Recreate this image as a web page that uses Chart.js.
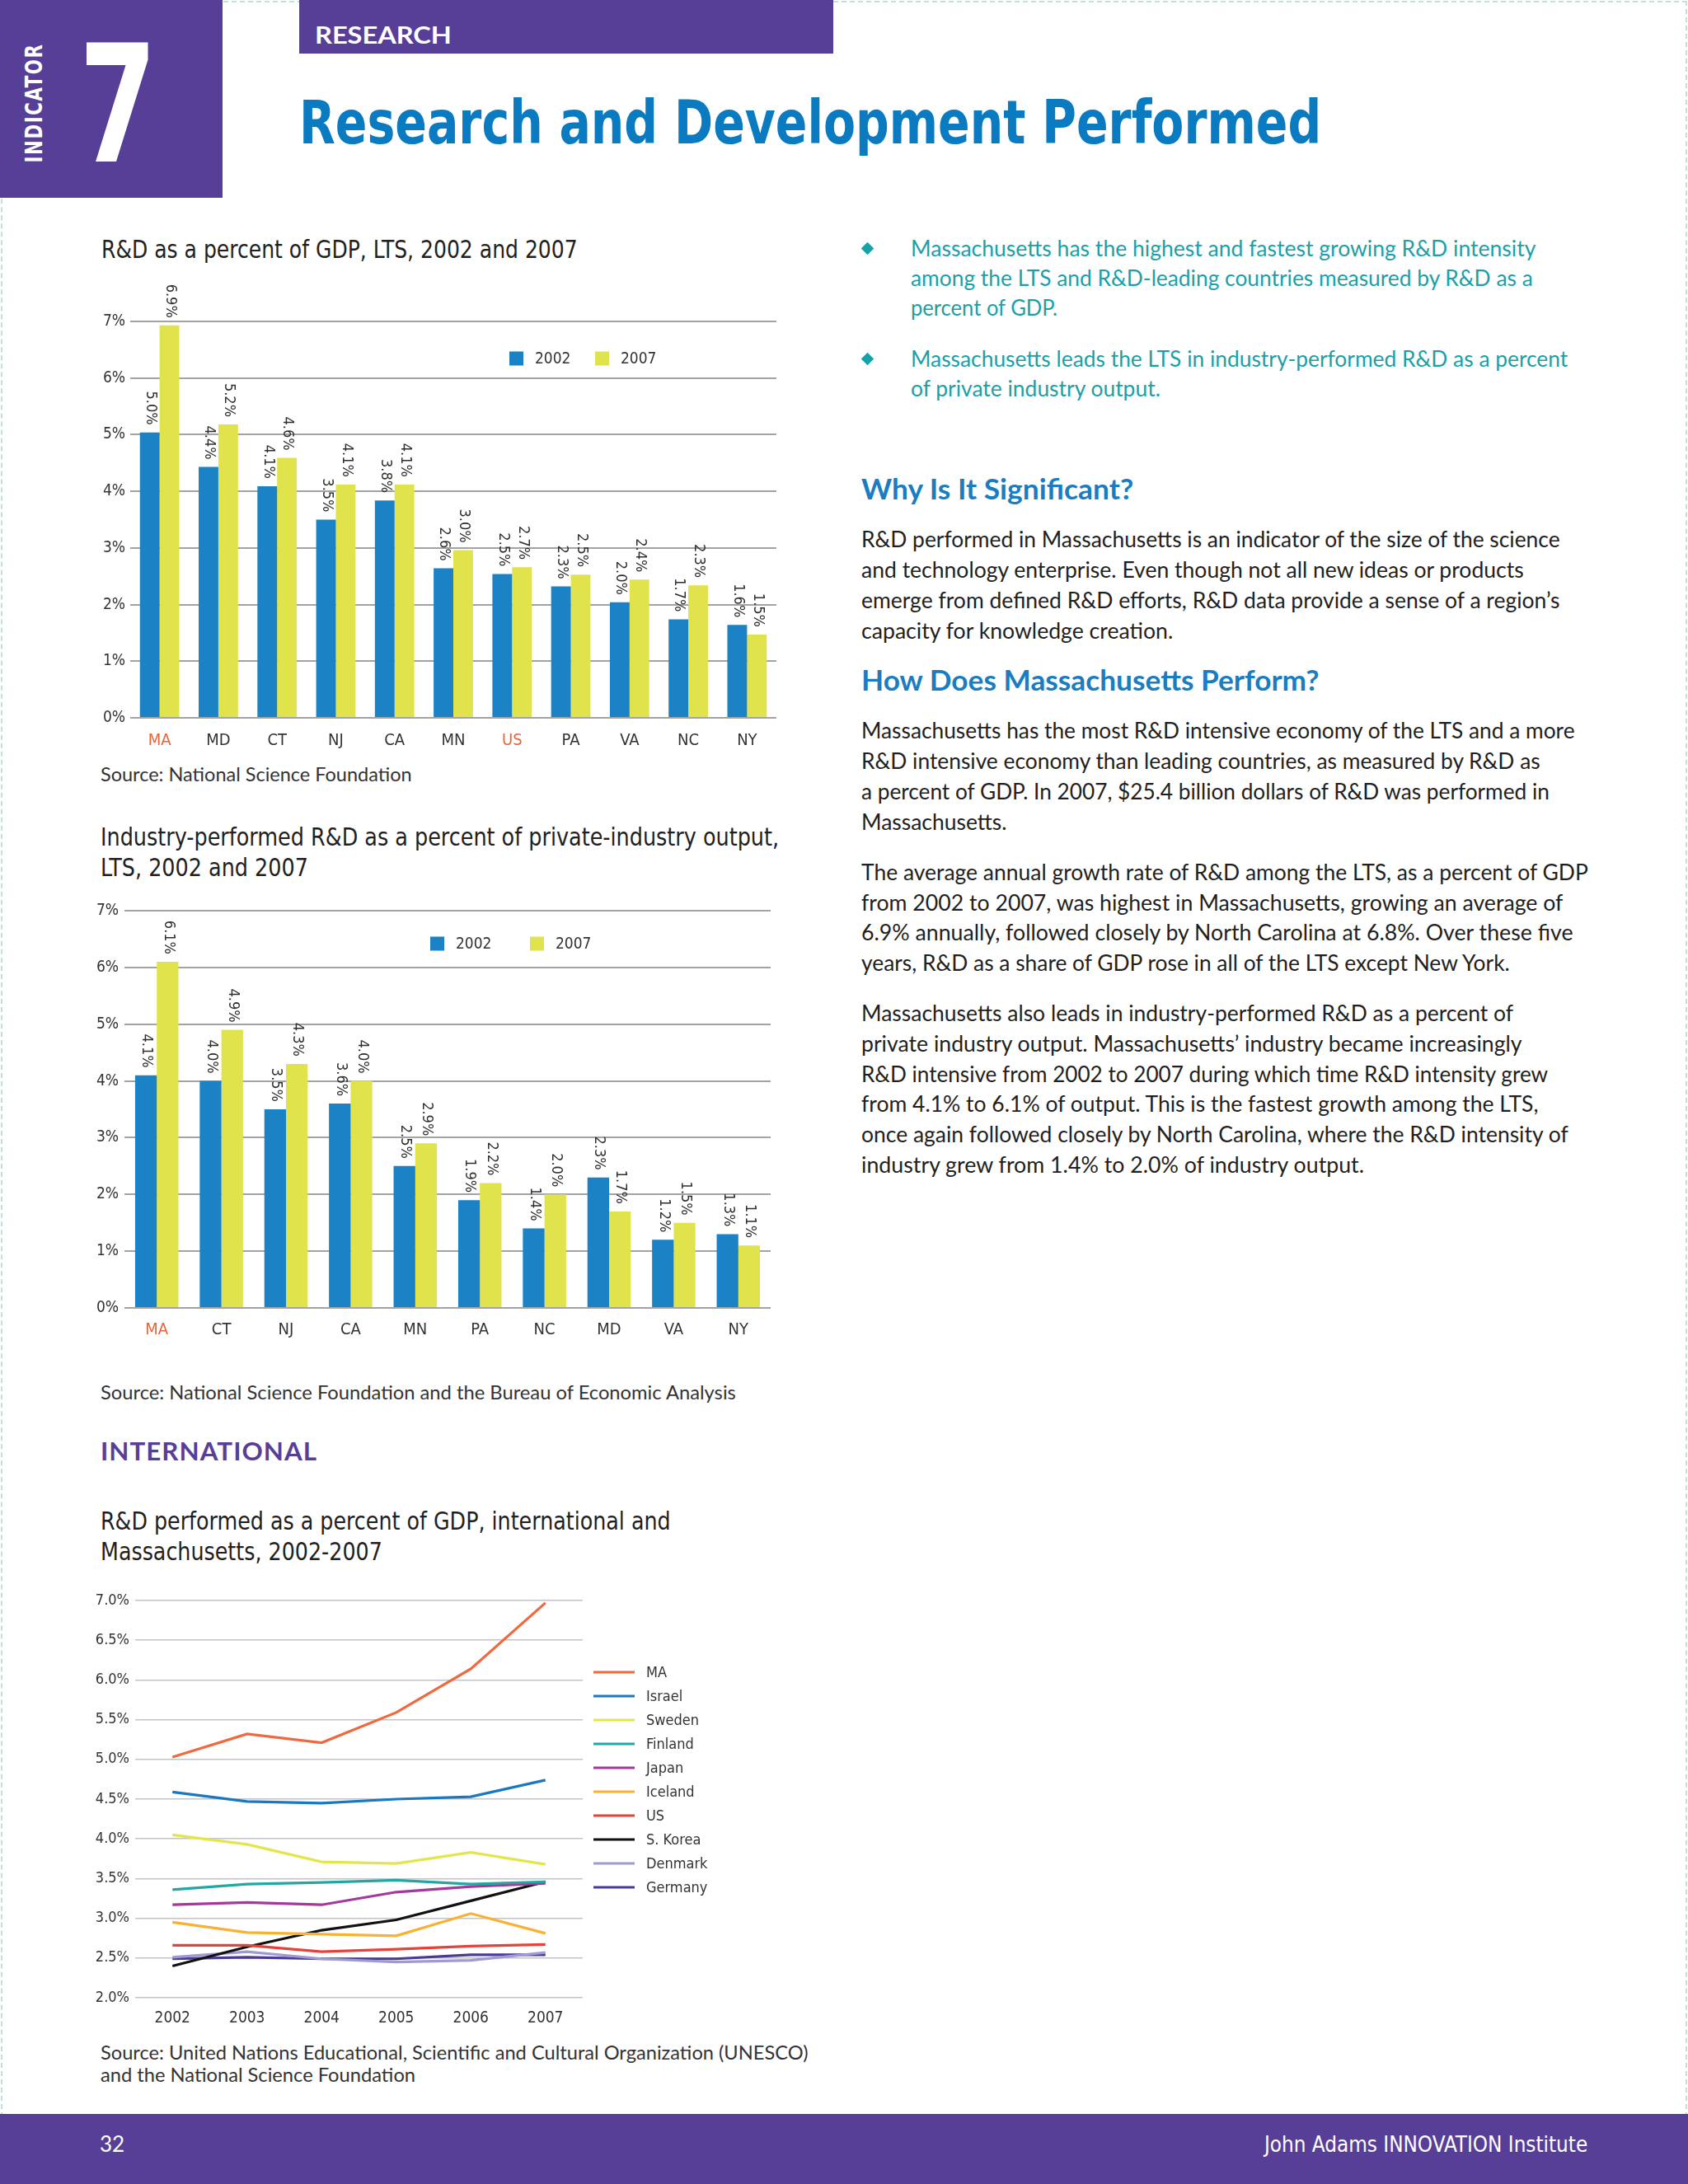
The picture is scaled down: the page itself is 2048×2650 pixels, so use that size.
<!DOCTYPE html>
<html>
<head>
<meta charset="utf-8">
<title>Research and Development Performed</title>
<script src="https://cdn.jsdelivr.net/npm/chart.js@4.4.1/dist/chart.umd.min.js"></script>
<style>
  html, body { margin: 0; padding: 0; background: #fff; }
  body { width: 2048px; height: 2650px; position: relative; overflow: hidden; color: #231f20; }
  .t { position: absolute; white-space: nowrap; line-height: 1; transform-origin: 0 0; }
  .lato { font-family: Lato, "Open Sans", sans-serif; }
  .narrow { font-family: "Liberation Sans Narrow", "DejaVu Sans Condensed", sans-serif; }
  .body { font-family: Lato, "Open Sans", sans-serif; font-size: 26px; }
  .bul { color: #1aa1a7; }
  .head { font-family: Lato, "Open Sans", sans-serif; font-weight: 700; font-size: 34px; color: #1a7dc1; }
  .ctitle { font-family: "Liberation Sans Narrow", "DejaVu Sans Condensed", sans-serif; font-size: 31px; }
  .src { font-family: Lato, "Open Sans", sans-serif; font-size: 23px; color: #333; }
  .diamond { position: absolute; width: 11px; height: 11px; background: #1aa1a7; transform: rotate(45deg); }
  canvas { position: absolute; }
  #frame { position: absolute; left: 1px; top: 1px; right: 1px; bottom: 1px; border: 2px dashed #bfe2da; }
  #indicator { position: absolute; left: -32px; top: 110px; width: 145px; height: 30px; transform: rotate(-90deg); transform-origin: 50% 50%; }
  #indicator span { display: inline-block; white-space: nowrap; line-height: 30px; transform-origin: 0 50%;
    font-family: "Liberation Sans Narrow", "DejaVu Sans Condensed", sans-serif; font-size: 29px; font-weight: 700; letter-spacing: 2px; color: #fff; }
</style>
</head>
<body>
<div id="frame"></div>

<!-- header -->
<div style="position:absolute;left:0;top:0;width:270px;height:240px;background:#573f98"></div>
<div id="indicator"><span data-w="145">INDICATOR</span></div>
<div class="t narrow" style="left:96px;top:29px;font-size:198px;font-weight:700;color:#fff;transform:scaleX(0.76)">7</div>
<div style="position:absolute;left:363px;top:0;width:648px;height:65px;background:#573f98"></div>
<div class="t lato" style="left:382px;top:27px;font-size:29px;font-weight:700;color:#fff" data-w="166">RESEARCH</div>
<div class="t narrow" style="left:363px;top:112px;font-size:73px;font-weight:700;color:#0b7bc1" data-w="1240">Research and Development Performed</div>

<!-- left column -->
<div class="t ctitle" style="left:123px;top:287px" data-w="578">R&amp;D as a percent of GDP, LTS, 2002 and 2007</div>
<canvas id="chartGdp" width="860" height="580" style="left:100px;top:330px"></canvas>
<div class="t src" style="left:122px;top:928px" data-w="378">Source: National Science Foundation</div>

<div class="t ctitle" style="left:122px;top:1000px" data-w="823">Industry-performed R&amp;D as a percent of private-industry output,</div>
<div class="t ctitle" style="left:122px;top:1037px" data-w="252">LTS, 2002 and 2007</div>
<canvas id="chartIndustry" width="850" height="560" style="left:100px;top:1075px"></canvas>
<div class="t src" style="left:122px;top:1678px" data-w="771">Source: National Science Foundation and the Bureau of Economic Analysis</div>

<div class="t lato" style="left:122px;top:1745px;font-size:30px;font-weight:700;color:#573f98;letter-spacing:1px" data-w="263">INTERNATIONAL</div>
<div class="t ctitle" style="left:122px;top:1830px" data-w="692">R&amp;D performed as a percent of GDP, international and</div>
<div class="t ctitle" style="left:122px;top:1867px" data-w="342">Massachusetts, 2002-2007</div>
<canvas id="chartIntl" width="760" height="555" style="left:100px;top:1915px"></canvas>
<div class="t src" style="left:122px;top:2479px" data-w="858">Source: United Nations Educational, Scientific and Cultural Organization (UNESCO)</div>
<div class="t src" style="left:122px;top:2506px" data-w="382">and the National Science Foundation</div>

<!-- right column -->
<div class="diamond" style="left:1047px;top:296px"></div>
<div class="t body bul" style="left:1105px;top:288px" data-w="758">Massachusetts has the highest and fastest growing R&amp;D intensity</div>
<div class="t body bul" style="left:1105px;top:324px" data-w="755">among the LTS and R&amp;D-leading countries measured by R&amp;D as a</div>
<div class="t body bul" style="left:1105px;top:360px" data-w="178">percent of GDP.</div>
<div class="diamond" style="left:1047px;top:430px"></div>
<div class="t body bul" style="left:1105px;top:422px" data-w="797">Massachusetts leads the LTS in industry-performed R&amp;D as a percent</div>
<div class="t body bul" style="left:1105px;top:458px" data-w="303">of private industry output.</div>

<div class="t head" style="left:1045px;top:576px" data-w="330">Why Is It Significant?</div>
<div class="t body" style="left:1045px;top:641px" data-w="848">R&amp;D performed in Massachusetts is an indicator of the size of the science</div>
<div class="t body" style="left:1045px;top:678px" data-w="804">and technology enterprise. Even though not all new ideas or products</div>
<div class="t body" style="left:1045px;top:715px" data-w="848">emerge from defined R&amp;D efforts, R&amp;D data provide a sense of a region’s</div>
<div class="t body" style="left:1045px;top:752px" data-w="378">capacity for knowledge creation.</div>

<div class="t head" style="left:1045px;top:808px" data-w="555">How Does Massachusetts Perform?</div>
<div class="t body" style="left:1045px;top:873px" data-w="866">Massachusetts has the most R&amp;D intensive economy of the LTS and a more</div>
<div class="t body" style="left:1045px;top:910px" data-w="824">R&amp;D intensive economy than leading countries, as measured by R&amp;D as</div>
<div class="t body" style="left:1045px;top:947px" data-w="835">a percent of GDP. In 2007, $25.4 billion dollars of R&amp;D was performed in</div>
<div class="t body" style="left:1045px;top:984px" data-w="177">Massachusetts.</div>

<div class="t body" style="left:1045px;top:1045px" data-w="882">The average annual growth rate of R&amp;D among the LTS, as a percent of GDP</div>
<div class="t body" style="left:1045px;top:1082px" data-w="851">from 2002 to 2007, was highest in Massachusetts, growing an average of</div>
<div class="t body" style="left:1045px;top:1118px" data-w="864">6.9% annually, followed closely by North Carolina at 6.8%. Over these five</div>
<div class="t body" style="left:1045px;top:1155px" data-w="787">years, R&amp;D as a share of GDP rose in all of the LTS except New York.</div>

<div class="t body" style="left:1045px;top:1216px" data-w="791">Massachusetts also leads in industry-performed R&amp;D as a percent of</div>
<div class="t body" style="left:1045px;top:1253px" data-w="802">private industry output. Massachusetts’ industry became increasingly</div>
<div class="t body" style="left:1045px;top:1290px" data-w="833">R&amp;D intensive from 2002 to 2007 during which time R&amp;D intensity grew</div>
<div class="t body" style="left:1045px;top:1326px" data-w="821">from 4.1% to 6.1% of output. This is the fastest growth among the LTS,</div>
<div class="t body" style="left:1045px;top:1363px" data-w="858">once again followed closely by North Carolina, where the R&amp;D intensity of</div>
<div class="t body" style="left:1045px;top:1400px" data-w="610">industry grew from 1.4% to 2.0% of industry output.</div>

<!-- footer -->
<div style="position:absolute;left:0;top:2565px;width:2048px;height:85px;background:#573f98"></div>
<div class="t lato" style="left:121px;top:2588px;font-size:26px;color:#fff">32</div>
<div class="t narrow" style="left:1534px;top:2589px;font-size:26px;color:#fff" data-w="392">John Adams INNOVATION Institute</div>

<script>
  // R&D as a percent of GDP, LTS
  const GDP_STATES = ['MA', 'MD', 'CT', 'NJ', 'CA', 'MN', 'US', 'PA', 'VA', 'NC', 'NY'];
  const GDP_2002 = [5.04, 4.43, 4.09, 3.50, 3.84, 2.64, 2.54, 2.32, 2.04, 1.74, 1.64];
  const GDP_2007 = [6.93, 5.18, 4.59, 4.12, 4.12, 2.96, 2.66, 2.53, 2.44, 2.34, 1.47];

  // Industry-performed R&D as a percent of private-industry output
  const IND_STATES = ['MA', 'CT', 'NJ', 'CA', 'MN', 'PA', 'NC', 'MD', 'VA', 'NY'];
  const IND_2002 = [4.1, 4.0, 3.5, 3.6, 2.5, 1.9, 1.4, 2.3, 1.2, 1.3];
  const IND_2007 = [6.1, 4.9, 4.3, 4.0, 2.9, 2.2, 2.0, 1.7, 1.5, 1.1];

  const BAR_TICKS = [0, 1, 2, 3, 4, 5, 6, 7];
  const HIGHLIGHT = ['MA', 'US'];

  // International, R&D as a percent of GDP
  const YEARS = ['2002', '2003', '2004', '2005', '2006', '2007'];
  const INTL_NAMES = ['MA', 'Israel', 'Sweden', 'Finland', 'Japan', 'Iceland', 'US', 'S. Korea', 'Denmark', 'Germany'];
  const INTL_MA = [5.03, 5.32, 5.21, 5.59, 6.14, 6.97];
  const INTL_ISRAEL = [4.59, 4.47, 4.45, 4.50, 4.53, 4.74];
  const INTL_SWEDEN = [4.05, 3.93, 3.71, 3.69, 3.83, 3.68];
  const INTL_FINLAND = [3.36, 3.43, 3.45, 3.48, 3.43, 3.46];
  const INTL_JAPAN = [3.17, 3.20, 3.17, 3.33, 3.40, 3.44];
  const INTL_ICELAND = [2.95, 2.82, 2.80, 2.78, 3.06, 2.81];
  const INTL_US = [2.66, 2.66, 2.58, 2.61, 2.65, 2.67];
  const INTL_KOREA = [2.40, 2.64, 2.85, 2.98, 3.22, 3.46];
  const INTL_DENMARK = [2.51, 2.58, 2.49, 2.45, 2.47, 2.57];
  const INTL_GERMANY = [2.49, 2.51, 2.49, 2.49, 2.54, 2.54];
  const INTL_COLORS = ['#ee6a3e', '#1a78c0', '#e2e64a', '#23a7a3', '#a3399b', '#f8b133', '#e4433b', '#111111', '#9d9bd2', '#4b3a95'];

  const BLUE = '#1b82c5';
  const YELLOW = '#e0e34b';
  const ORANGE = '#e8643c';
  const NARROW = '"Liberation Sans Narrow", "DejaVu Sans Condensed", sans-serif';

  // rotated value labels above each bar
  const barValues = {
    id: 'barValues',
    afterDatasetsDraw(chart) {
      const ctx = chart.ctx;
      ctx.save();
      ctx.font = '18px ' + NARROW;
      ctx.fillStyle = '#2e2e2e';
      ctx.textAlign = 'right';
      ctx.textBaseline = 'middle';
      chart.data.datasets.forEach((ds, i) => {
        chart.getDatasetMeta(i).data.forEach((bar, j) => {
          ctx.save();
          ctx.translate(bar.x + 1, bar.y - 9);
          ctx.rotate(Math.PI / 2);
          ctx.fillText(ds.data[j].toFixed(1) + '%', 0, 0);
          ctx.restore();
        });
      });
      ctx.restore();
    }
  };

  // legend drawn at a fixed spot inside the canvas
  const spotLegend = {
    id: 'spotLegend',
    afterDraw(chart, args, opts) {
      const ctx = chart.ctx;
      ctx.save();
      ctx.font = opts.fontSize + 'px ' + NARROW;
      ctx.fillStyle = '#333';
      ctx.textBaseline = 'middle';
      chart.data.datasets.forEach((ds, i) => {
        if (opts.style === 'box') {
          const x = opts.x + i * opts.gap;
          ctx.fillStyle = ds.backgroundColor;
          ctx.fillRect(x, opts.y - opts.box / 2, opts.box, opts.box);
          ctx.fillStyle = '#333';
          ctx.fillText(ds.label, x + opts.textOffset, opts.y + 1);
        } else {
          const y = opts.y + i * opts.gap;
          ctx.strokeStyle = ds.borderColor;
          ctx.lineWidth = 3;
          ctx.beginPath();
          ctx.moveTo(opts.x, y);
          ctx.lineTo(opts.x + opts.len, y);
          ctx.stroke();
          ctx.fillStyle = '#333';
          ctx.fillText(ds.label, opts.x + opts.textOffset, y + 1);
        }
      });
      ctx.restore();
    }
  };

  function barChart(id, labels, d02, d07, geo) {
    return new Chart(document.getElementById(id), {
      type: 'bar',
      data: {
        labels,
        datasets: [
          { label: '2002', data: d02, backgroundColor: BLUE },
          { label: '2007', data: d07, backgroundColor: YELLOW }
        ]
      },
      plugins: [barValues, spotLegend],
      options: {
        responsive: false,
        animation: false,
        devicePixelRatio: 1,
        datasets: { bar: { categoryPercentage: 0.67, barPercentage: 1.0 } },
        layout: { padding: { top: geo.top, right: geo.right, left: 0, bottom: 0 } },
        plugins: {
          legend: { display: false },
          tooltip: { enabled: false },
          spotLegend: { style: 'box', x: geo.legX, y: geo.legY, gap: geo.legGap, box: 17, textOffset: 31, fontSize: 19 }
        },
        scales: {
          x: {
            grid: { display: false },
            border: { display: false },
            ticks: {
              font: { family: NARROW, size: 20 },
              color: c => HIGHLIGHT.includes(labels[c.index]) ? ORANGE : '#333',
              padding: geo.xPad
            },
            afterFit: s => { s.height = geo.xH; }
          },
          y: {
            min: BAR_TICKS[0],
            max: BAR_TICKS[BAR_TICKS.length - 1],
            afterBuildTicks: s => { s.ticks = BAR_TICKS.map(v => ({ value: v })); },
            ticks: {
              callback: v => v + '%',
              font: { family: NARROW, size: 19 },
              color: '#333',
              padding: geo.yPad
            },
            grid: { color: '#a3a3a3', lineWidth: 2, drawTicks: false },
            border: { display: false },
            afterFit: s => { s.width = geo.yW; }
          }
        }
      }
    });
  }

  barChart('chartGdp', GDP_STATES, GDP_2002, GDP_2007,
    { top: 60, right: 18, yW: 58, xH: 39, xPad: 8, yPad: 6, legX: 518, legY: 105, legGap: 104 });

  barChart('chartIndustry', IND_STATES, IND_2002, IND_2007,
    { top: 30, right: 15, yW: 51, xH: 48, xPad: 7, yPad: 7, legX: 422, legY: 70, legGap: 121 });

  const intlSeries = [INTL_MA, INTL_ISRAEL, INTL_SWEDEN, INTL_FINLAND, INTL_JAPAN,
    INTL_ICELAND, INTL_US, INTL_KOREA, INTL_DENMARK, INTL_GERMANY];

  new Chart(document.getElementById('chartIntl'), {
    type: 'line',
    data: {
      labels: YEARS,
      // lower order draws last, so MA ends up on top
      datasets: intlSeries.map((d, i) => ({
        label: INTL_NAMES[i],
        data: d,
        borderColor: INTL_COLORS[i],
        backgroundColor: INTL_COLORS[i],
        borderWidth: 3.2,
        pointRadius: 0,
        tension: 0,
        order: i
      }))
    },
    plugins: [spotLegend],
    options: {
      responsive: false,
      animation: false,
      devicePixelRatio: 1,
      layout: { padding: { top: 27, right: 153, left: 0, bottom: 0 } },
      plugins: {
        legend: { display: false },
        tooltip: { enabled: false },
        spotLegend: { style: 'line', x: 620, y: 114, gap: 29, len: 50, textOffset: 64, fontSize: 18 }
      },
      scales: {
        x: {
          offset: true,
          grid: { display: false },
          border: { display: false },
          ticks: { font: { family: NARROW, size: 19 }, color: '#333', padding: 6 },
          afterFit: s => { s.height = 46; }
        },
        y: {
          min: 2,
          max: 7,
          ticks: {
            stepSize: 0.5,
            callback: v => v.toFixed(1) + '%',
            font: { family: NARROW, size: 18 },
            color: '#333',
            padding: 7
          },
          grid: { color: '#c3c3cc', lineWidth: 1.5, drawTicks: false },
          border: { display: false },
          afterFit: s => { s.width = 64; }
        }
      }
    }
  });

  // squeeze/stretch text lines to the widths measured on the page
  // (offsetWidth ignores transforms, so rotated parents don't skew it)
  function fitWidths() {
    document.querySelectorAll('[data-w]').forEach(el => {
      const w = el.offsetWidth;
      if (w > 0) el.style.transform = 'scaleX(' + (Number(el.dataset.w) / w) + ')';
    });
  }
  fitWidths();
  if (document.fonts) document.fonts.ready.then(fitWidths);
</script>
</body>
</html>
